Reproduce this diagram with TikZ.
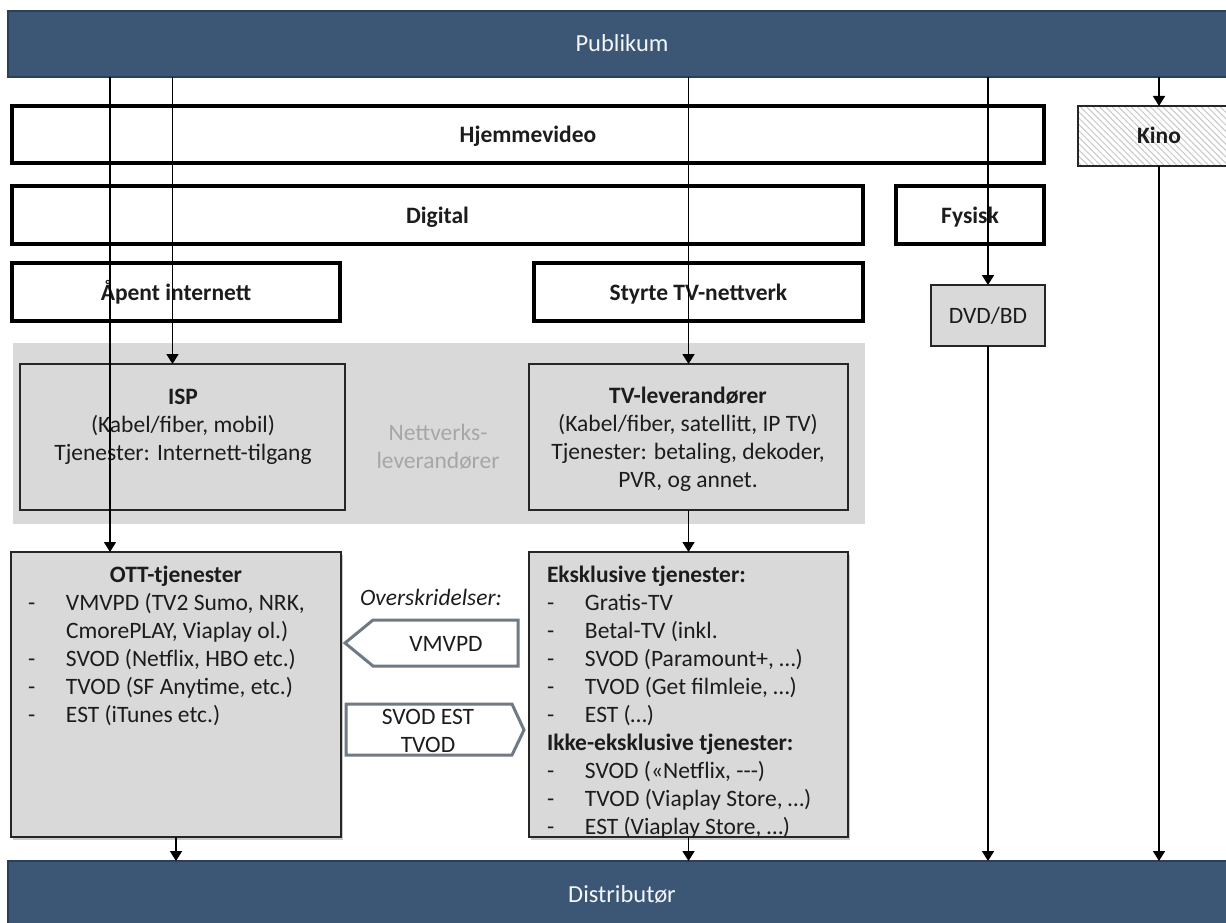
\documentclass[tikz,border=0pt]{standalone}
\usepackage{fontspec}
\setmainfont{Carlito}
\usetikzlibrary{arrows.meta,patterns.meta,shadows,calc}
\definecolor{barblue}{HTML}{3B5775}
\definecolor{bardark}{HTML}{2B4058}
\definecolor{boxgray}{HTML}{D9D9D9}
\definecolor{txtgray}{HTML}{A6A6A6}
\definecolor{shapegray}{HTML}{6F7A84}
\definecolor{ink}{HTML}{1C1C1C}
\begin{document}
\begin{tikzpicture}[x=1pt,y=-1pt,
  every node/.style={inner sep=0pt, outer sep=0pt, text=ink},
  fs/.style={font=\fontsize{23.5}{28}\selectfont},
  oneline/.style={text height=17pt, text depth=1pt},
  bar/.style={draw=bardark, line width=2.5pt, fill=barblue, text=white!94!barblue,
    font=\fontsize{24.5}{28}\selectfont, oneline},
  thickbox/.style={draw=black, line width=4pt, fill=white, font=\bfseries\fontsize{23.5}{28}\selectfont, oneline},
  graybox/.style={draw=black!85, line width=1.8pt, fill=boxgray},
  listbox/.style={draw=black!85, line width=1.5pt, fill=boxgray,
    drop shadow={shadow xshift=2pt, shadow yshift=-2.5pt, opacity=0.35, fill=black!60}},
  arr/.style={draw=black, line width=1.6pt, -{Triangle[length=10pt,width=12pt]}},
  shapeline/.style={draw=shapegray, line width=3pt, fill=white, line join=miter},
]
\useasboundingbox (0,0) rectangle (1226,923);
\clip (0,0) rectangle (1226,923);

% bars
\node[bar, minimum width=1228pt, minimum height=66pt] (pub) at (622,44) {Publikum};
\node[bar, minimum width=1228pt, minimum height=66pt] (dist) at (622,894) {Distributør};

% category boxes
\node[thickbox, minimum width=1032pt, minimum height=57pt] (hjem) at (528,134.5) {Hjemmevideo};
\node[thickbox, minimum width=851pt, minimum height=58pt] (dig) at (437.5,215) {Digital};
\node[thickbox, minimum width=148pt, minimum height=58pt] (fys) at (970,215) {Fysisk};
\node[thickbox, minimum width=328pt, minimum height=58pt] (apent) at (176,292) {Åpent internett};
\node[thickbox, minimum width=329pt, minimum height=58pt] (styrte) at (698.5,292) {Styrte TV-nettverk};

\node[draw=black!85, line width=2pt, pattern={Lines[angle=-45,distance=4.5pt,line width=1pt]},
  pattern color=black!22, minimum width=162pt, minimum height=60pt,
  font=\bfseries\fontsize{23.5}{28}\selectfont, oneline] (kino) at (1159,136) {Kino};
\node[graybox, minimum width=114pt, minimum height=61pt, fs, oneline] (dvd) at (988,315.5) {DVD/BD};

% network providers
\node[fill=boxgray, minimum width=852pt, minimum height=181pt] (netbg) at (439,433.5) {};
\node[graybox, minimum width=325pt, minimum height=146pt] (isp) at (182.5,437) {};
\node[graybox, minimum width=319pt, minimum height=146pt] (tvl) at (688.5,437) {};
\node[fs, anchor=base, text=txtgray] (nettxt) at (438,440)
  {\begin{tabular}[t]{@{}c@{}}Nettverks-\\leverandører\end{tabular}};
\node[fs, anchor=base] (isptxt) at (183,404)
  {\begin{tabular}[t]{@{}c@{}}\textbf{ISP}\\(Kabel/fiber, mobil)\\Tjenester: Internett-tilgang\end{tabular}};
\node[fs, anchor=base] (tvltxt) at (688,403)
  {\begin{tabular}[t]{@{}c@{}}\textbf{TV-leverandører}\\(Kabel/fiber, satellitt, IP TV)\\Tjenester: betaling, dekoder,\\PVR, og annet.\end{tabular}};

% service boxes
\node[listbox, minimum width=330pt, minimum height=285pt] (ott) at (176,694.5) {};
\node[listbox, minimum width=319pt, minimum height=285pt] (eks) at (688.5,694.5) {};
\node[fs, anchor=base] (otthead) at (176,582) {\textbf{OTT-tjenester}};
\node[fs, anchor=base west] (ottlist) at (28,610)
  {\begin{tabular}[t]{@{}p{38pt}@{}l@{}}
  -&VMVPD (TV2 Sumo, NRK,\\
  &CmorePLAY, Viaplay ol.)\\
  -&SVOD (Netflix, HBO etc.)\\
  -&TVOD (SF Anytime, etc.)\\
  -&EST (iTunes etc.)
  \end{tabular}};
\node[fs, anchor=base west] (ekslist) at (547,582)
  {\begin{tabular}[t]{@{}p{38pt}@{}l@{}}
  \multicolumn{2}{@{}l@{}}{\textbf{Eksklusive tjenester:}}\\
  -&Gratis-TV\\
  -&Betal-TV (inkl.\\
  -&SVOD (Paramount+, …)\\
  -&TVOD (Get filmleie, …)\\
  -&EST (…)\\
  \multicolumn{2}{@{}l@{}}{\textbf{Ikke-eksklusive tjenester:}}\\
  -&SVOD («Netflix, {-}{-}{-})\\
  -&TVOD (Viaplay Store, …)\\
  -&EST (Viaplay Store, …)
  \end{tabular}};

% overskridelser
\node[anchor=base, font=\itshape\fontsize{23.5}{28}\selectfont] (over) at (431,605) {Overskridelser:};
\draw[shapeline] (345,643) -- (373,620) -- (518,620) -- (518,666) -- (373,666) -- cycle;
\node[fs, anchor=base] (vmvpd) at (446,651) {VMVPD};
\draw[shapeline] (346,704) -- (512,704) -- (524,730) -- (512,755) -- (346,755) -- cycle;
\node[fs, anchor=base] (svod) at (428,724)
  {\begin{tabular}[t]{@{}c@{}}SVOD EST\\TVOD\end{tabular}};

% connectors
\coordinate (o1) at ([xshift=99pt]ott.north west);
\coordinate (i1) at ([xshift=-10pt]isp.north);
\draw[arr] (pub.south -| o1) -- (o1);
\draw[arr] (pub.south -| i1) -- (i1);
\draw[arr] (pub.south -| tvl.north) -- (tvl.north);
\draw[arr] (pub.south -| dvd.north) -- (dvd.north);
\draw[arr] (pub.south -| kino.north) -- (kino.north);
\draw[arr] (tvl.south) -- (eks.north);
\draw[arr] (ott.south) -- (ott.south |- dist.north);
\draw[arr] (eks.south) -- (eks.south |- dist.north);
\draw[arr] (dvd.south) -- (dvd.south |- dist.north);
\draw[arr] (kino.south) -- (kino.south |- dist.north);
\end{tikzpicture}
\end{document}
